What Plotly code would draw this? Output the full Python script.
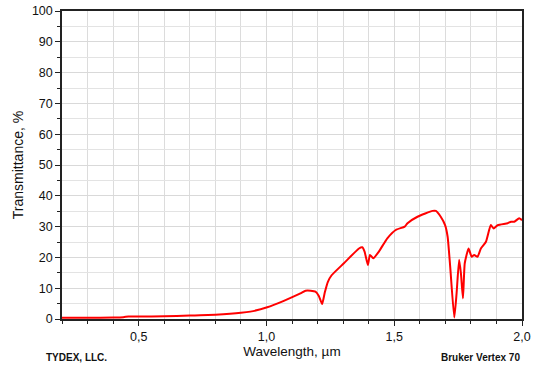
import plotly.graph_objects as go

wavelength = [0.20, 0.30, 0.40, 0.44, 0.46, 0.50, 0.60, 0.70, 0.74, 0.80, 0.90, 0.937, 1.003, 1.068,
              1.133, 1.153, 1.173, 1.192, 1.205, 1.218, 1.228, 1.240, 1.255, 1.303, 1.362, 1.375, 1.384,
              1.397, 1.405, 1.418, 1.440, 1.473, 1.506, 1.541, 1.552, 1.591, 1.650, 1.663, 1.682,
              1.699, 1.709, 1.719, 1.735, 1.744, 1.754, 1.761, 1.769, 1.776, 1.791, 1.803, 1.813,
              1.826, 1.839, 1.859, 1.878, 1.889, 1.905, 1.944, 1.957, 1.970, 1.989, 2.000]
transmittance = [0.4, 0.4, 0.5, 0.6, 0.8, 0.8, 0.9, 1.1, 1.2, 1.4, 2.0, 2.4, 3.8, 5.9,
                 8.3, 9.2, 9.2, 8.9, 7.5, 4.9, 8.5, 12.0, 14.2, 18.1, 22.9, 23.3, 21.9,
                 17.5, 20.8, 19.7, 21.9, 26.2, 28.9, 30.0, 31.1, 33.2, 35.1, 35.1, 33.2,
                 30.5, 26.7, 17.0, 0.5, 8.3, 19.2, 14.8, 6.7, 18.1, 22.9, 20.2, 20.8,
                 20.2, 22.9, 25.1, 30.5, 29.4, 30.5, 31.1, 31.6, 31.6, 32.7, 32.1]

x_tickvals = [0.5, 1.0, 1.5, 2.0]
x_ticktext = ["0,5", "1,0", "1,5", "2,0"]
y_tickvals = [0, 10, 20, 30, 40, 50, 60, 70, 80, 90, 100]

fig = go.Figure()
fig.add_trace(go.Scatter(x=wavelength, y=transmittance, mode="lines",
                         line=dict(color="#ff0000", width=2, shape="spline", smoothing=0.5),
                         showlegend=False))

font = "Liberation Sans, Arial, sans-serif"
fig.update_layout(
    width=536, height=367,
    margin=dict(l=62, r=14, t=11, b=48, autoexpand=False),
    paper_bgcolor="white", plot_bgcolor="white",
    font=dict(family=font, size=13, color="#111"),
    xaxis=dict(range=[0.2, 2.0], tickvals=x_tickvals, ticktext=x_ticktext, automargin=False,
               ticks="outside", ticklen=5, tickcolor="#222",
               showline=True, linecolor="#222", linewidth=1.5, mirror=True,
               showgrid=True, gridcolor="#d9d9d9", gridwidth=1,
               minor=dict(dtick=0.1, tick0=0.2, ticks="outside", ticklen=3, tickcolor="#222",
                          showgrid=True, gridcolor="#dcdcdc", gridwidth=1),
               zeroline=False,
               title=dict(text="Wavelength, µm", font=dict(size=13.5), standoff=3),
               tickfont=dict(size=12.5)),
    yaxis=dict(range=[0, 100], tickvals=y_tickvals, automargin=False,
               ticks="outside", ticklen=5, tickcolor="#222",
               showline=True, linecolor="#222", linewidth=1.5, mirror=True,
               showgrid=True, gridcolor="#d9d9d9", gridwidth=1,
               minor=dict(dtick=5, ticks="outside", ticklen=3, tickcolor="#222",
                          showgrid=True, gridcolor="#e3e3e3", gridwidth=1),
               zeroline=False,
               title=dict(text="Transmittance, %", font=dict(size=14), standoff=5),
               tickfont=dict(size=12.5)),
)
pw = 536 - 62 - 14
ph = 367 - 11 - 48
fig.add_annotation(text="<b>TYDEX, LLC.</b>", xref="paper", yref="paper",
                   x=(76 - 62) / pw, y=(319 - 357) / ph, xanchor="center", yanchor="middle",
                   showarrow=False, font=dict(size=10, color="#111"))
fig.add_annotation(text="<b>Bruker Vertex 70</b>", xref="paper", yref="paper",
                   x=(522 - 62) / pw, y=(319 - 357) / ph, xanchor="right", yanchor="middle",
                   showarrow=False, font=dict(size=10, color="#111"))

fig.write_html("out.html")
